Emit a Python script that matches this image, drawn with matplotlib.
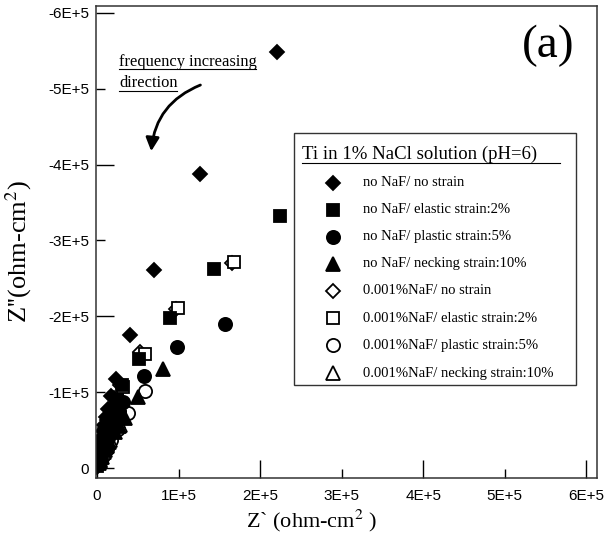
import matplotlib
matplotlib.use("Agg")
import matplotlib.pyplot as plt
from matplotlib.lines import Line2D
from matplotlib.patches import Rectangle, FancyArrowPatch
from matplotlib.ticker import FixedLocator, FuncFormatter

# Z' (real) and Z'' (imaginary, negative) values, ohm-cm2
labels = ["no NaF/ no strain", "no NaF/ elastic strain:2%",
          "no NaF/ plastic strain:5%", "no NaF/ necking strain:10%",
          "0.001%NaF/ no strain", "0.001%NaF/ elastic strain:2%",
          "0.001%NaF/ plastic strain:5%", "0.001%NaF/ necking strain:10%"]

zr_1 = [2.21e5, 1.26e5, 0.70e5, 0.40e5, 0.23e5, 0.17e5, 0.13e5, 0.11e5, 0.086e5, 0.075e5,
        0.06e5, 0.045e5, 0.037e5, 0.03e5, 0.025e5, 0.018e5, 0.012e5, 0.008e5, 0.005e5, 0.002e5]
zi_1 = [-5.49e5, -3.88e5, -2.61e5, -1.75e5, -1.17e5, -0.95e5, -0.78e5, -0.67e5, -0.57e5, -0.49e5,
        -0.41e5, -0.34e5, -0.28e5, -0.22e5, -0.17e5, -0.13e5, -0.09e5, -0.06e5, -0.04e5, -0.015e5]

zr_2 = [2.24e5, 1.43e5, 0.89e5, 0.51e5, 0.31e5, 0.25e5, 0.20e5, 0.16e5, 0.13e5, 0.10e5,
        0.08e5, 0.06e5, 0.045e5, 0.037e5, 0.02e5, 0.012e5, 0.004e5]
zi_2 = [-3.32e5, -2.63e5, -1.98e5, -1.44e5, -1.09e5, -0.90e5, -0.70e5, -0.61e5, -0.53e5, -0.40e5,
        -0.33e5, -0.26e5, -0.21e5, -0.17e5, -0.12e5, -0.08e5, -0.03e5]

zr_3 = [1.57e5, 0.98e5, 0.58e5, 0.32e5, 0.27e5, 0.22e5, 0.16e5, 0.13e5, 0.11e5, 0.07e5,
        0.055e5, 0.04e5, 0.025e5, 0.015e5]
zi_3 = [-1.90e5, -1.60e5, -1.21e5, -0.87e5, -0.75e5, -0.63e5, -0.47e5, -0.40e5, -0.34e5, -0.22e5,
        -0.18e5, -0.13e5, -0.09e5, -0.05e5]

zr_4 = [0.81e5, 0.50e5, 0.34e5, 0.27e5, 0.22e5, 0.15e5, 0.12e5, 0.10e5, 0.06e5, 0.04e5, 0.025e5]
zi_4 = [-1.31e5, -0.94e5, -0.66e5, -0.56e5, -0.47e5, -0.34e5, -0.29e5, -0.24e5, -0.145e5, -0.10e5, -0.066e5]

zr_5 = [1.65e5, 0.97e5, 0.53e5, 0.28e5, 0.21e5, 0.16e5, 0.12e5, 0.10e5, 0.06e5, 0.037e5, 0.02e5, 0.012e5]
zi_5 = [-2.70e5, -2.10e5, -1.53e5, -1.10e5, -0.92e5, -0.77e5, -0.63e5, -0.53e5, -0.34e5, -0.20e5, -0.14e5, -0.09e5]

zr_6 = [1.68e5, 0.99e5, 0.59e5, 0.32e5, 0.24e5, 0.18e5, 0.14e5, 0.11e5, 0.07e5, 0.037e5, 0.02e5, 0.012e5]
zi_6 = [-2.72e5, -2.11e5, -1.50e5, -1.07e5, -0.90e5, -0.74e5, -0.61e5, -0.50e5, -0.33e5, -0.20e5, -0.14e5, -0.09e5]

zr_7 = [0.59e5, 0.38e5, 0.26e5, 0.17e5, 0.12e5, 0.07e5, 0.037e5]
zi_7 = [-1.02e5, -0.73e5, -0.51e5, -0.37e5, -0.25e5, -0.16e5, -0.08e5]

zr_8 = [0.28e5, 0.16e5, 0.086e5, 0.037e5]
zi_8 = [-0.57e5, -0.37e5, -0.21e5, -0.105e5]

xticks = [0, 1e5, 2e5, 3e5, 4e5, 5e5, 6e5]
yticks = [0, -1e5, -2e5, -3e5, -4e5, -5e5, -6e5]

series = [(zr_1, zi_1, "D", "black", 7),
          (zr_2, zi_2, "s", "black", 9),
          (zr_3, zi_3, "o", "black", 9.5),
          (zr_4, zi_4, "^", "black", 9.5),
          (zr_5, zi_5, "D", "white", 7),
          (zr_6, zi_6, "s", "white", 9),
          (zr_7, zi_7, "o", "white", 9.5),
          (zr_8, zi_8, "^", "white", 9.5)]

W, H = 607, 537
fig = plt.figure(figsize=(W / 100, H / 100), dpi=100)


def fx(px):
    return px / W


def fy(py):
    return 1 - py / H


ax = fig.add_axes([fx(96), fy(478), fx(597) - fx(96), fy(6) - fy(478)])

# hollow series first so the filled ones sit on top, as in the original
for zr, zi, m, fc, ms in series[4:] + series[:4]:
    ax.plot(zr, zi, linestyle="none", marker=m, markersize=ms,
            markerfacecolor=fc, markeredgecolor="black", markeredgewidth=1.3)

ax.set_xlim(-0.012e5, 6.13e5)
ax.set_ylim(0.13e5, -6.09e5)


def fmt(v, pos):
    if abs(v) < 1:
        return "0"
    return "%dE+5" % round(v / 1e5)


ax.xaxis.set_major_locator(FixedLocator(xticks[::2]))
ax.xaxis.set_minor_locator(FixedLocator(xticks[1::2]))
ax.yaxis.set_major_locator(FixedLocator(yticks[::2]))
ax.yaxis.set_minor_locator(FixedLocator(yticks[1::2]))
for a in (ax.xaxis, ax.yaxis):
    a.set_major_formatter(FuncFormatter(fmt))
    a.set_minor_formatter(FuncFormatter(fmt))

ax.tick_params(which="major", direction="in", length=13, width=1.0)
ax.tick_params(which="minor", direction="in", length=6.5, width=1.0)
ax.tick_params(axis="x", which="both", pad=8)
ax.tick_params(axis="y", which="both", pad=5)
for lab in ax.get_xticklabels(which="both") + ax.get_yticklabels(which="both"):
    lab.set_fontfamily("Liberation Sans")
    lab.set_fontsize(11)
for s in ax.spines.values():
    s.set_linewidth(1.1)
    s.set_color("#333333")

serif = "Liberation Serif"
fig.text(fx(312), fy(521), "Z` (ohm-cm$^2$ )", family=serif, size=16,
         ha="center", va="center", math_fontfamily="stix")
fig.text(fx(19), fy(252), "Z''(ohm-cm$^2$)", family=serif, size=19,
         ha="center", va="center", rotation=90, math_fontfamily="stix")

fig.text(fx(548), fy(46), "(a)", family=serif, size=34, ha="center", va="center")

# annotation
fig.text(fx(119), fy(62), "frequency increasing", family=serif, size=11.9,
         ha="left", va="center")
fig.add_artist(Line2D([fx(119), fx(256)], [fy(69), fy(69)], color="black",
                      lw=0.8, transform=fig.transFigure))
fig.text(fx(119), fy(83), "direction", family=serif, size=11.9,
         ha="left", va="center")
fig.add_artist(Line2D([fx(119), fx(177)], [fy(91), fy(91)], color="black",
                      lw=0.8, transform=fig.transFigure))
arrow = FancyArrowPatch((fx(203), fy(84)), (fx(151), fy(154)),
                        transform=fig.transFigure,
                        connectionstyle="arc3,rad=0.32",
                        arrowstyle="-|>,head_length=8,head_width=4",
                        color="black", lw=2.0)
fig.add_artist(arrow)

# legend box
fig.add_artist(Rectangle((fx(294), fy(385)), fx(576) - fx(294), fy(133) - fy(385),
                         transform=fig.transFigure, fill=False,
                         edgecolor="#333333", lw=1.0))
fig.text(fx(302), fy(154), "Ti in 1% NaCl solution (pH=6)", family=serif,
         size=13.5, ha="left", va="center")
fig.add_artist(Line2D([fx(302), fx(560)], [fy(163), fy(163)], color="black",
                      lw=0.8, transform=fig.transFigure))
row_y = [183, 210, 237, 264, 291, 318, 345, 373]
for (zr, zi, m, fc, ms), lab, yy in zip(series, labels, row_y):
    fig.add_artist(Line2D([fx(333)], [fy(yy)], linestyle="none", marker=m,
                          markersize=ms, markerfacecolor=fc,
                          markeredgecolor="black", markeredgewidth=1.3,
                          transform=fig.transFigure))
    fig.text(fx(363), fy(yy), lab, family=serif, size=10.5, ha="left", va="center")

fig.savefig("out.png", dpi=100)
